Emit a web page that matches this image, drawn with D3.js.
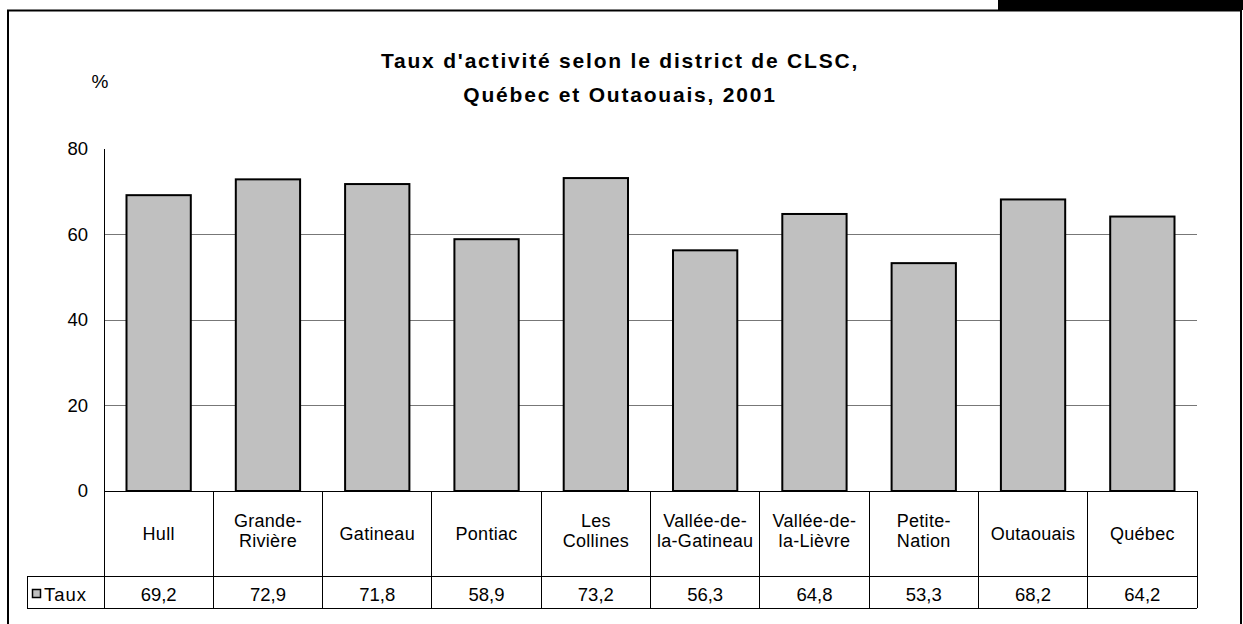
<!DOCTYPE html>
<html>
<head>
<meta charset="utf-8">
<script src="https://cdn.jsdelivr.net/npm/d3@7"></script>
<style>
  body { margin: 0; background: #fff; }
  svg text { font-family: "Liberation Sans", Arial, sans-serif; fill: #000; }
</style>
</head>
<body>
<div id="chart"></div>
<script>
// Taux d'activite par district de CLSC
var categories = ["Hull", "Grande-\nRivière", "Gatineau", "Pontiac", "Les\nCollines",
                  "Vallée-de-\nla-Gatineau", "Vallée-de-\nla-Lièvre", "Petite-\nNation",
                  "Outaouais", "Québec"];
var taux = [69.2, 72.9, 71.8, 58.9, 73.2, 56.3, 64.8, 53.3, 68.2, 64.2];
var valueLabels = ["69,2", "72,9", "71,8", "58,9", "73,2", "56,3", "64,8", "53,3", "68,2", "64,2"];
var yTicks = [0, 20, 40, 60, 80];
var seriesName = "Taux";

var svgWidth = 1243;
var svgHeight = 624;
var fs = "18.5px";

var svg = d3.select("#chart").append("svg")
    .attr("width", svgWidth)
    .attr("height", svgHeight);

// black tab at the top right + outer frame
svg.append("rect").attr("x", 998).attr("y", 0).attr("width", 245).attr("height", 10).attr("fill", "#000");
svg.append("rect")
    .attr("x", 8).attr("y", 10.5)
    .attr("width", 1233).attr("height", 640)
    .attr("fill", "none").attr("stroke", "#000").attr("stroke-width", 2);

// plot area
var plot = { left: 104, right: 1197, top: 149, bottom: 491 };
var rowCat = 576, rowVal = 608, labelLeft = 27;

var yScale = d3.scaleLinear().domain([0, 80]).range([plot.bottom, plot.top]);

// columns of the data table
var colScale = d3.scaleBand().domain(d3.range(categories.length))
    .range([plot.left, plot.right]).padding(0);

// bars: gap width 70%
var gap = 0.7 / 1.7;
var xScale = d3.scaleBand().domain(d3.range(categories.length))
    .range([plot.left, plot.right]).paddingInner(gap).paddingOuter(gap / 2);

// title
var title = svg.append("text")
    .attr("text-anchor", "middle")
    .style("font-weight", "bold").style("font-size", "21px")
    .style("letter-spacing", "1.8px");
title.append("tspan").attr("x", 620).attr("y", 68).text("Taux d'activité selon le district de CLSC,");
title.append("tspan").attr("x", 620).attr("y", 102).text("Québec et Outaouais, 2001");

svg.append("text").attr("x", 100).attr("y", 88)
    .attr("text-anchor", "middle").style("font-size", "19px").text("%");

// gridlines
svg.append("g").selectAll("line")
    .data(yTicks.filter(d => d > 0 && d < 80))
    .enter().append("line")
    .attr("x1", plot.left).attr("x2", plot.right)
    .attr("y1", d => yScale(d)).attr("y2", d => yScale(d))
    .attr("stroke", "#777").attr("stroke-width", 1)
    .attr("shape-rendering", "crispEdges");

// y axis, no tick marks
var yAxis = d3.axisLeft(yScale).tickValues(yTicks).tickSize(0).tickPadding(16);
var yG = svg.append("g").attr("transform", `translate(${plot.left},0)`).call(yAxis);
yG.select(".domain").remove();
yG.selectAll("text").style("font-size", fs).attr("font-family", null);

// bars
svg.append("g").selectAll(".bar")
    .data(taux)
    .enter().append("rect")
    .classed("bar", true)
    .attr("x", (d, i) => xScale(i))
    .attr("y", d => yScale(d))
    .attr("width", xScale.bandwidth())
    .attr("height", d => yScale(0) - yScale(d))
    .attr("fill", "#c0c0c0")
    .attr("stroke", "#000")
    .attr("stroke-width", 2);

// table lines
var grid = svg.append("g").attr("stroke", "#000").attr("stroke-width", 1)
    .attr("shape-rendering", "crispEdges");
grid.append("line").attr("x1", plot.left).attr("x2", plot.left)
    .attr("y1", plot.top).attr("y2", rowVal);
grid.append("line").attr("x1", plot.left).attr("x2", plot.right)
    .attr("y1", plot.bottom).attr("y2", plot.bottom);
grid.append("line").attr("x1", labelLeft).attr("x2", plot.right)
    .attr("y1", rowCat).attr("y2", rowCat);
grid.append("line").attr("x1", labelLeft).attr("x2", plot.right)
    .attr("y1", rowVal).attr("y2", rowVal);
grid.append("line").attr("x1", labelLeft).attr("x2", labelLeft)
    .attr("y1", rowCat).attr("y2", rowVal);
grid.selectAll(".col")
    .data(d3.range(categories.length))
    .enter().append("line")
    .attr("x1", d => colScale(d) + colScale.bandwidth())
    .attr("x2", d => colScale(d) + colScale.bandwidth())
    .attr("y1", plot.bottom).attr("y2", rowVal);

// category labels, one text per line
var catG = svg.append("g");
categories.forEach((d, i) => {
    var lines = d.split("\n");
    var cx = colScale(i) + colScale.bandwidth() / 2;
    var lh = 20;
    var y0 = 540 - (lines.length - 1) * 13;
    lines.forEach((ln, k) => {
        catG.append("text")
            .attr("x", cx).attr("y", y0 + k * lh)
            .attr("text-anchor", "middle")
            .style("font-size", "18px")
            .style("letter-spacing", "0.3px")
            .text(ln);
    });
});

// value labels
svg.append("g").selectAll("text")
    .data(valueLabels)
    .enter().append("text")
    .attr("x", (d, i) => colScale(i) + colScale.bandwidth() / 2)
    .attr("y", 601)
    .attr("text-anchor", "middle")
    .style("font-size", fs)
    .text(d => d);

// legend key
svg.append("rect").attr("x", 32.5).attr("y", 589.5).attr("width", 8).attr("height", 8)
    .attr("fill", "#c0c0c0").attr("stroke", "#000").attr("stroke-width", 1.5);
svg.append("text").attr("x", 44).attr("y", 601).style("font-size", fs)
    .style("letter-spacing", "1px").text(seriesName);
</script>
</body>
</html>
